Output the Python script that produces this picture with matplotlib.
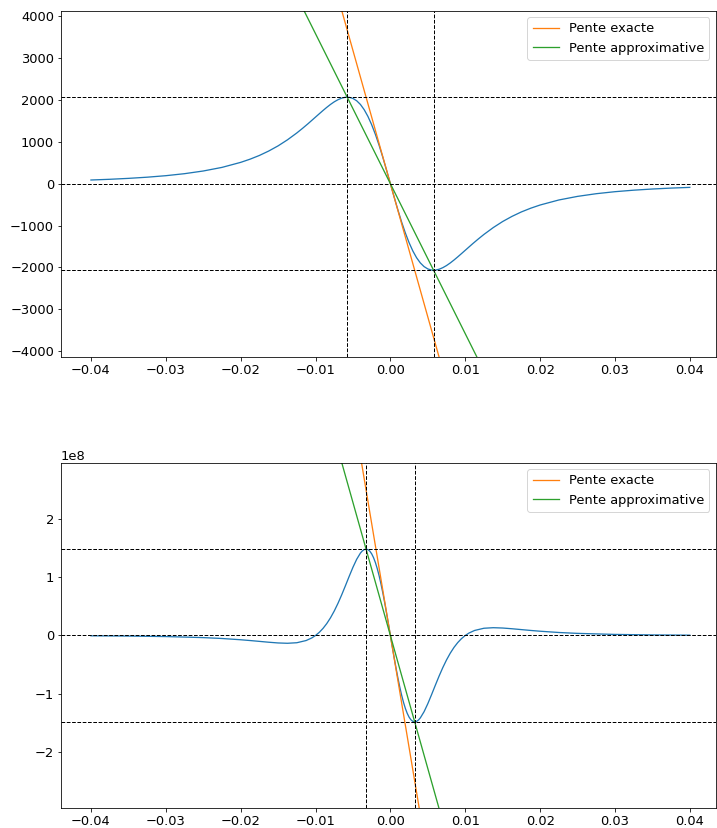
import matplotlib
matplotlib.use("Agg")
import matplotlib.pyplot as plt

# Courbe du haut
x_haut = [-0.04, -0.0375, -0.035, -0.0325, -0.03, -0.0275, -0.025, -0.0225, -0.02,
          -0.01875, -0.0175, -0.01625, -0.015, -0.01375, -0.0125, -0.01175, -0.011,
          -0.0105, -0.01, -0.0095, -0.009, -0.0085, -0.008, -0.0075, -0.007, -0.0065,
          -0.006, -0.00577, -0.0055, -0.005, -0.0045, -0.004, -0.0035, -0.003, -0.0025,
          -0.002, -0.0015, -0.001, -0.0005, 0.0,
          0.0005, 0.001, 0.0015, 0.002, 0.0025, 0.003, 0.0035, 0.004, 0.0045, 0.005,
          0.0055, 0.00577, 0.006, 0.0065, 0.007, 0.0075, 0.008, 0.0085, 0.009, 0.0095,
          0.01, 0.0105, 0.011, 0.01175, 0.0125, 0.01375, 0.015, 0.01625, 0.0175,
          0.01875, 0.02, 0.0225, 0.025, 0.0275, 0.03, 0.0325, 0.035, 0.0375, 0.04]
y_haut = [88, 105, 127, 155, 191, 239, 303, 389, 509,
          585, 674, 780, 903, 1047, 1211, 1319, 1432,
          1511, 1590, 1669, 1747, 1822, 1892, 1954, 2005, 2043,
          2063, 2065, 2062, 2035, 1979, 1891, 1767, 1606, 1408,
          1176, 913, 624, 316, 0,
          -316, -624, -913, -1176, -1408, -1606, -1767, -1891, -1979, -2035,
          -2062, -2065, -2063, -2043, -2005, -1954, -1892, -1822, -1747, -1669,
          -1590, -1511, -1432, -1319, -1211, -1047, -903, -780, -674,
          -585, -509, -389, -303, -239, -191, -155, -127, -105, -88]

# droites (haut) : pente exacte et pente approximative
droite_x = [-0.02, 0.02]
exacte_haut = [12720, -12720]
approx_haut = [7160, -7160]
ext_haut_x = [-0.00577, 0.00577]
ext_haut_y = [2065, -2065]

# Courbe du bas (en unités de 1e8)
x_bas = [-0.04, -0.035, -0.03, -0.025, -0.0225, -0.02, -0.01875, -0.0175, -0.01625,
         -0.015, -0.01375, -0.0125, -0.01125, -0.0105, -0.01, -0.0095, -0.009, -0.0085,
         -0.008, -0.0075, -0.007, -0.0065, -0.006, -0.0055, -0.005, -0.0045, -0.004,
         -0.00375, -0.0035, -0.00325, -0.003, -0.00275, -0.0025, -0.00225, -0.002,
         -0.00175, -0.0015, -0.00125, -0.001, -0.00075, -0.0005, -0.00025, 0.0,
         0.00025, 0.0005, 0.00075, 0.001, 0.00125, 0.0015, 0.00175, 0.002, 0.00225,
         0.0025, 0.00275, 0.003, 0.00325, 0.0035, 0.00375, 0.004, 0.0045, 0.005,
         0.0055, 0.006, 0.0065, 0.007, 0.0075, 0.008, 0.0085, 0.009, 0.0095, 0.01,
         0.0105, 0.01125, 0.0125, 0.01375, 0.015, 0.01625, 0.0175, 0.01875, 0.02,
         0.0225, 0.025, 0.03, 0.035, 0.04]
y_bas = [-0.0055, -0.0098, -0.0183, -0.0363, -0.0516, -0.0733, -0.0866, -0.1011, -0.1158,
         -0.1282, -0.1338, -0.1244, -0.0865, -0.0420, 0.0, 0.0539, 0.1216, 0.2044,
         0.3038, 0.4200, 0.5526, 0.6995, 0.8565, 1.0170, 1.1720, 1.3096, 1.4159,
         1.4527, 1.4760, 1.4844, 1.4756, 1.4490, 1.4032, 1.3377, 1.2523,
         1.1472, 1.0235, 0.8824, 0.7259, 0.5564, 0.3768, 0.1902, 0.0,
         -0.1902, -0.3768, -0.5564, -0.7259, -0.8824, -1.0235, -1.1472, -1.2523, -1.3377,
         -1.4032, -1.4490, -1.4756, -1.4844, -1.4760, -1.4527, -1.4159, -1.3096, -1.1720,
         -1.0170, -0.8565, -0.6995, -0.5526, -0.4200, -0.3038, -0.2044, -0.1216, -0.0539, 0.0,
         0.0420, 0.0865, 0.1244, 0.1338, 0.1282, 0.1158, 0.1011, 0.0866, 0.0733,
         0.0516, 0.0363, 0.0183, 0.0098, 0.0055]
y_bas = [v * 1e8 for v in y_bas]

exacte_bas = [1.54e9, -1.54e9]
approx_bas = [9.14e8, -9.14e8]
ext_bas_x = [-0.00325, 0.00325]
ext_bas_y = [1.4844e8, -1.4844e8]

plt.rcParams["font.size"] = 13

fig = plt.figure(figsize=(717 / 72, 828 / 72), dpi=72)
ax1 = fig.add_axes([0.0851, 0.5692, 0.9135, 0.4179])
ax2 = fig.add_axes([0.0851, 0.0238, 0.9135, 0.4174])


def tracer(ax, x, y, exacte, approx, ext_x, ext_y):
    ax.plot(x, y, color="C0", lw=1.3)
    ax.plot(droite_x, exacte, color="C1", lw=1.3, label="Pente exacte")
    ax.plot(droite_x, approx, color="C2", lw=1.3, label="Pente approximative")
    for v in ext_y + [0]:
        ax.axhline(v, color="k", ls="--", lw=1)
    for v in ext_x:
        ax.axvline(v, color="k", ls="--", lw=1)
    ax.set_xlim(-0.044, 0.0435)
    ax.set_ylim(-2 * ext_y[0], 2 * ext_y[0])
    ax.legend(loc="upper right")


tracer(ax1, x_haut, y_haut, exacte_haut, approx_haut, ext_haut_x, ext_haut_y)
tracer(ax2, x_bas, y_bas, exacte_bas, approx_bas, ext_bas_x, ext_bas_y)

fig.savefig("out.png", dpi=72)
